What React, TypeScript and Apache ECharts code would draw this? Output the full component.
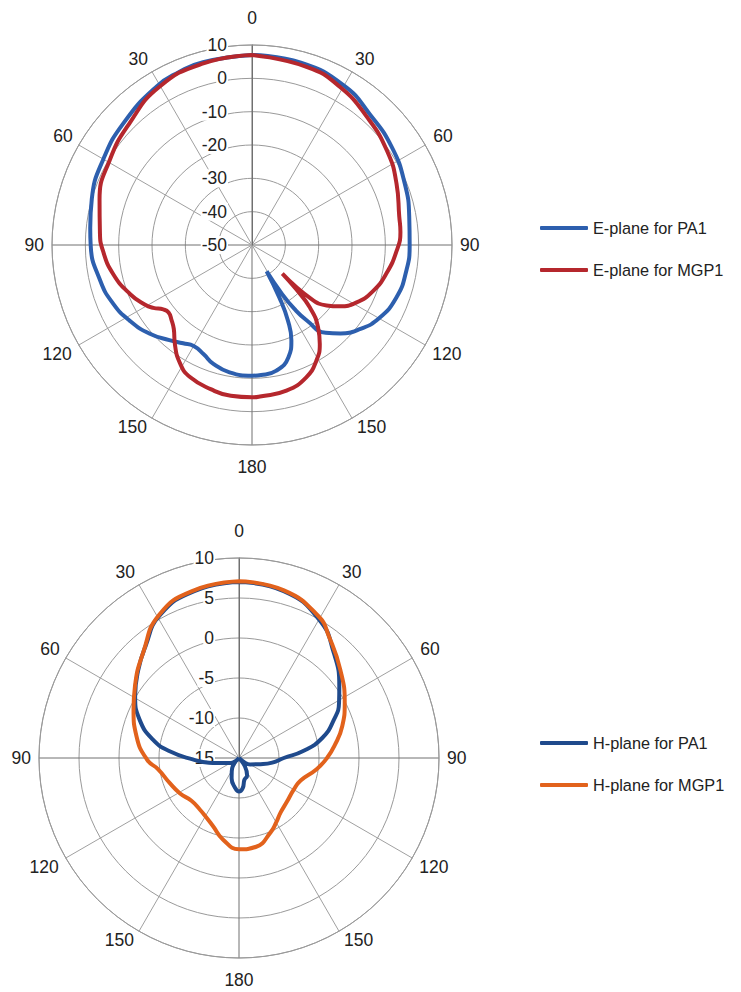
import React, { useEffect, useRef } from 'react';
import * as echarts from 'echarts';

// ---- data: [angle (deg, clockwise from top), gain (dB)] ----
const E_PA1: [number, number][] = [
  [0, 7], [15, 6.6], [30, 5.2], [42, 2.8], [55, 1.2], [68, -0.6], [80, -2.1], [90, -2.7],
  [100, -3.1], [110, -3.9], [120, -6], [128, -9], [135, -12.5], [140, -15.6], [144, -22],
  [146.5, -27.2], [148.5, -33], [150.8, -41], [152.5, -32.2], [154.6, -24.9], [157.6, -19],
  [162, -14.6], [169, -11.6], [176, -10.9], [180, -10.8], [190, -11.2], [198, -12.5],
  [204, -14.2], [210, -15], [215, -14], [221, -12.2], [229, -9.4], [238, -6.9], [247, -4.8],
  [257, -3.2], [270, -1.6], [276, -1.2], [286, 0], [300, 1.5], [314, 3.2], [329, 5.5],
  [337, 6.3], [345, 6.8], [360, 7],
];
const E_MGP1: [number, number][] = [
  [0, 7], [17, 5.9], [29, 4.3], [42, 1.6], [55, -0.6], [67, -2.9], [79, -5], [85, -5.3],
  [92, -6.5], [102, -8.8], [111, -11.2], [119, -14.3], [125, -17.9], [129, -21.2],
  [132.3, -26], [133.3, -37.5], [135, -31.5], [137.2, -24.5], [141.3, -18.3], [145.6, -14],
  [150.9, -10.3], [157.7, -7.1], [166.7, -5.1], [177, -4.5], [180, -4.3], [188, -4.3],
  [196, -5], [205, -6.2], [211, -8.3], [218, -12.4], [223, -15.6], [227, -17], [231, -17.8],
  [234, -17.1], [237.5, -14.9], [241, -13.2], [248, -10.6], [258, -7.5], [268, -5.2],
  [275, -4.2], [286.5, -2.3], [300.8, -0.3], [314.8, 1.8], [329.7, 5], [345, 6.4], [360, 7],
];
const H_PA1: [number, number][] = [
  [0, 7], [15, 6.6], [30, 5], [42, 2.7], [54.5, 0.4], [61, -0.7], [68, -2.2], [76.5, -4.3],
  [84, -7], [90, -9.4], [98, -10.8], [106, -12.2], [120, -13.4], [128, -14], [135, -15],
  [145, -13.7], [155, -12.6], [166, -12.2], [173, -11.2], [180, -10.8], [187, -11.2],
  [200, -12.3], [207, -13], [217, -13.7], [225, -15], [234, -14], [243, -13.6], [256, -12.4],
  [261, -11.2], [268, -9.3], [275.5, -6.3], [282, -4], [291, -1.7], [300.7, 0.1], [311, 1.7],
  [320, 3.2], [331, 5.4], [345, 6.6], [360, 7],
];
const H_MGP1: [number, number][] = [
  [0, 7.1], [15, 6.7], [29.4, 5.3], [36.5, 3.9], [48.9, 1.8], [62.5, -0.1], [72.9, -1.5],
  [82.9, -3], [90, -4], [98.2, -5.2], [110, -6.8], [120, -7.1], [132, -6.9], [143, -6.4],
  [150, -5.7], [157, -4.9], [169, -3.7], [180, -3.6], [191, -4.6], [201, -5.9], [210, -6.6],
  [217, -6.9], [228, -7], [239, -6.4], [250, -5.8], [262, -4.8], [269, -3.5], [282, -1.9],
  [294.6, -0.5], [304.6, 0.8], [317.7, 2.8], [330.9, 5.5], [345, 6.7], [360, 7.1],
];

const E_NAMES = ['E-plane for PA1', 'E-plane for MGP1'];
const H_NAMES = ['H-plane for PA1', 'H-plane for MGP1'];
const E_RADIUS = { min: -50, max: 10, step: 10 };
const H_RADIUS = { min: -15, max: 10, step: 5 };
const ANGLE_STEP = 30;

const FONT = '"Liberation Sans", Arial, sans-serif';
const TEXT = '#222';

const richKey: Record<number, string> = {
  0: 't', 30: 'a', 60: 'b', 90: 'c', 120: 'd', 150: 'e', 180: 'f',
  210: 'g', 240: 'h', 270: 'i', 300: 'j', 330: 'k',
};
const base = { fontSize: 17.5, fontFamily: FONT, color: TEXT };
const rich = {
  t: { ...base, padding: [0, 0, 18, 0] },
  a: { ...base, padding: [0, 0, 4, 3] },
  b: { ...base, padding: [0, 0, 0, 8] },
  c: { ...base, padding: [0, 0, 0, 8] },
  d: { ...base, padding: [0, 0, 0, 7] },
  e: { ...base, padding: [0, 0, 0, 5] },
  f: { ...base, padding: [13, 0, 0, 0] },
  g: { ...base, padding: [0, 5, 0, 0] },
  h: { ...base, padding: [0, 7, 0, 0] },
  i: { ...base, padding: [0, 8, 0, 0] },
  j: { ...base, padding: [0, 6, 0, 0] },
  k: { ...base, padding: [0, 4, 4, 0] },
};

function angleAxis(polarIndex: number) {
  return {
    polarIndex,
    type: 'value',
    min: 0,
    max: 360,
    interval: ANGLE_STEP,
    startAngle: 90,
    clockwise: true,
    axisLine: { show: true, lineStyle: { color: '#9a9a9a', width: 1 } },
    axisTick: { show: false },
    splitLine: { show: true, lineStyle: { color: ['#707070', '#a0a0a0', '#a0a0a0'], width: 1 } },
    axisLabel: {
      margin: 0,
      formatter: (v: number) => {
        if (v >= 360) return '';
        const shown = v <= 180 ? v : 360 - v;
        return `{${richKey[v]}|${shown}}`;
      },
      rich,
    },
  };
}

function radiusAxis(polarIndex: number, r: { min: number; max: number; step: number }) {
  return {
    polarIndex,
    type: 'value',
    min: r.min,
    max: r.max,
    interval: r.step,
    axisLine: { show: true, lineStyle: { color: '#707070', width: 1 } },
    axisTick: { show: false },
    splitLine: { show: true, lineStyle: { color: '#9a9a9a', width: 1 } },
    axisLabel: {
      margin: 24,
      fontSize: 17.5,
      fontFamily: FONT,
      color: TEXT,
      backgroundColor: '#fff',
      padding: [0, 1, 0, 1],
    },
  };
}

function series(name: string, data: [number, number][], polarIndex: number, color: string) {
  return {
    name,
    type: 'line',
    coordinateSystem: 'polar',
    polarIndex,
    data: data.map(([a, v]) => [v, a]),
    symbol: 'none',
    smooth: 0.5,
    lineStyle: { color, width: 4 },
    itemStyle: { color },
    z: 3,
  };
}

const COLORS = {
  ePA1: '#2d5fae',
  eMGP1: '#b5272d',
  hPA1: '#1f4a8c',
  hMGP1: '#e2621c',
};

export default function App() {
  const ref = useRef<HTMLDivElement>(null);
  useEffect(() => {
    if (!ref.current) return;
    const chart = echarts.init(ref.current, undefined, { renderer: 'svg' });
    const legendCommon = {
      orient: 'vertical',
      left: 535,
      itemWidth: 48,
      itemHeight: 4,
      itemGap: 22,
      icon: 'roundRect',
      textStyle: { fontSize: 16.3, fontFamily: FONT, color: TEXT, lineHeight: 20 },
      selectedMode: false,
    };
    chart.setOption({
      animation: false,
      backgroundColor: '#fff',
      polar: [
        { center: [252, 245], radius: 200 },
        { center: [239, 758], radius: 200 },
      ],
      angleAxis: [angleAxis(0), angleAxis(1)],
      radiusAxis: [radiusAxis(0, E_RADIUS), radiusAxis(1, H_RADIUS)],
      legend: [
        { ...legendCommon, top: 213, data: E_NAMES },
        { ...legendCommon, top: 728, data: H_NAMES },
      ],
      series: [
        series(E_NAMES[0], E_PA1, 0, COLORS.ePA1),
        series(E_NAMES[1], E_MGP1, 0, COLORS.eMGP1),
        series(H_NAMES[0], H_PA1, 1, COLORS.hPA1),
        series(H_NAMES[1], H_MGP1, 1, COLORS.hMGP1),
      ],
    });
    return () => chart.dispose();
  }, []);
  return (
    <div
      ref={ref}
      style={{ position: 'absolute', left: 0, top: 0, width: 741, height: 992, background: '#fff' }}
    />
  );
}
